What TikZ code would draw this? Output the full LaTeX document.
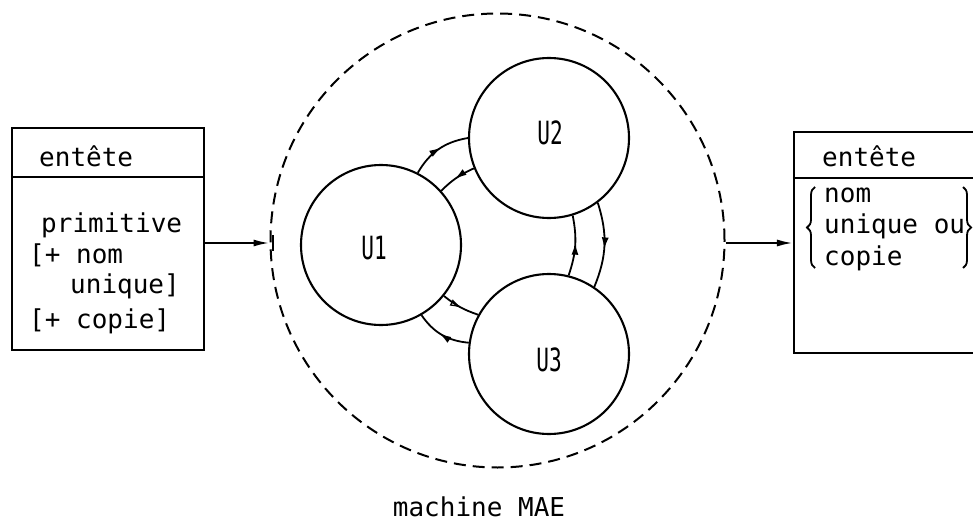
\documentclass[tikz,border=0pt]{standalone}
\usepackage{fontspec}
\setmonofont{DejaVu Sans Mono}
\usetikzlibrary{arrows.meta,decorations.markings,decorations.pathreplacing}
\begin{document}
\begin{tikzpicture}[x=1pt,y=1pt,
  unit/.style={circle, draw, line width=2.1pt, minimum size=160pt, inner sep=0pt},
  ulabel/.style={font=\ttfamily\fontsize{32}{34}\selectfont},
  boxframe/.style={draw, line width=2.1pt, inner sep=0pt},
  txt/.style={anchor=base west, inner sep=0pt, font=\ttfamily\fontsize{26}{30}\selectfont},
  midarrow/.style={postaction={decorate}, decoration={markings, mark=at position 0.55 with {\arrow{Latex[length=12pt,width=7pt]}}}},
  midarrowopen/.style={postaction={decorate}, decoration={markings, mark=at position 0.55 with {\arrow{Latex[open,length=12pt,width=7pt,line width=1.2pt]}}}},
  link/.style={line width=1.8pt, midarrow},
  linkopen/.style={line width=1.8pt, midarrowopen},
  mainarrow/.style={line width=2pt, -{Latex[length=16pt,width=7pt]}},
  bracestyle/.style={line width=1.8pt, decorate, decoration={brace, amplitude=8pt}}
]
\useasboundingbox (0,0) rectangle (973,523);

% dashed machine circle
\node[circle, draw, dash pattern=on 12pt off 7pt, line width=2pt, minimum size=454pt, inner sep=0pt] (M) at (497.5,282.5) {};

% units
\node[unit] (U1) at (381,278) {};
\node[unit] (U2) at (549,385) {};
\node[unit] (U3) at (549,169) {};
\node[ulabel] (t1) at (374,275) {\scalebox{0.66}[1]{U1}};
\node[ulabel] (t2) at (550,390) {\scalebox{0.66}[1]{U2}};
\node[ulabel] (t3) at (549,163) {\scalebox{0.66}[1]{U3}};

% links between units
\draw[link] (U1.63) to[bend left=25] (U2.180);
\draw[link] (U2.202) to[bend right=10] (U1.42);
\draw[link] (U3.76) to[bend right=15] (U2.287);
\draw[link] (U2.-53) to[bend left=20] (U3.56);
\draw[linkopen] (U1.-39) to[bend right=10] (U3.151);
\draw[link] (U3.172) to[bend left=25] (U1.-60);

% left box
\node[boxframe, minimum width=192pt, minimum height=222pt] (L) at (108,284) {};
\draw[line width=1.8pt] (L.west |- 0,346) -- (L.east |- 0,346);
\node[txt] (l0) at (39,356) {entête};
\node[txt] (l1) at (41,291) {primitive};
\node[txt] (l2) at (29,260) {[+ nom};
\node[txt] (l3) at (70,230) {unique]};
\node[txt] (l4) at (29,195) {[+ copie]};

% right box
\node[boxframe, minimum width=216pt, minimum height=221pt] (R) at (902,280.5) {};
\draw[line width=1.8pt] (R.west |- 0,345) -- (R.east |- 0,345);
\node[txt] (r0) at (822,356) {entête};
\node[txt] (r1) at (824,321) {nom};
\node[txt] (r2) at (824,290) {unique ou};
\node[txt] (r3) at (824,258) {copie};
\draw[bracestyle] (815,255) -- (815,336);
\draw[bracestyle] (963,336) -- (963,255);

% main arrows
\draw[mainarrow] (L.east |- 0,280) -- (M.west |- 0,280);
\draw[line width=2pt] ([xshift=3pt]M.west |- 0,288) -- ([xshift=3pt]M.west |- 0,272);
\draw[mainarrow] (M.east |- 0,280) -- (R.west |- 0,280);

% caption
\node[txt, anchor=base, font=\ttfamily\fontsize{26}{30}\selectfont] (cap) at (479,7) {machine MAE};
\end{tikzpicture}
\end{document}
